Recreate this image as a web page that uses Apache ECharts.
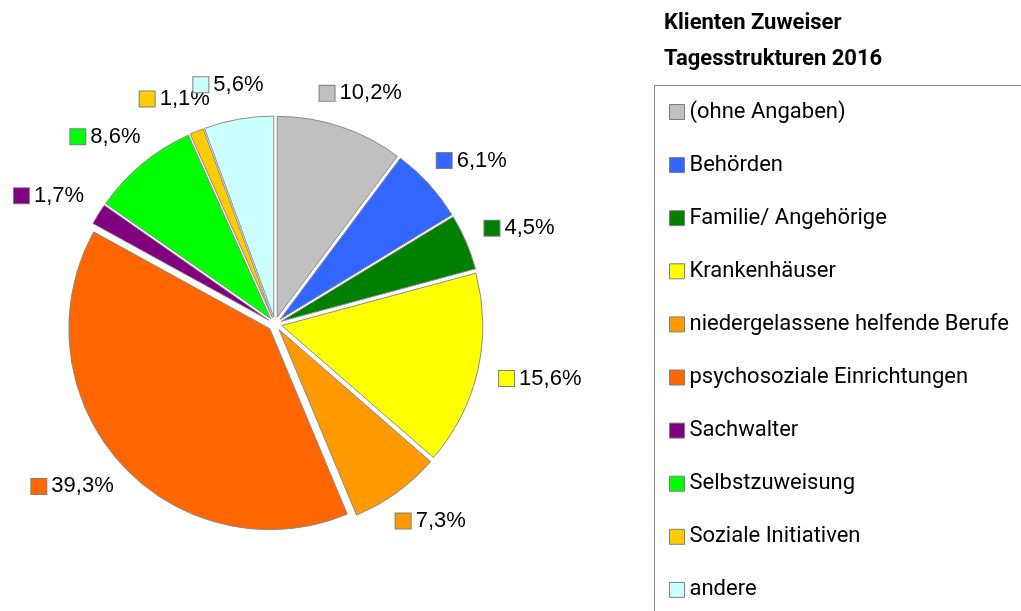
<!DOCTYPE html>
<html>
<head>
<meta charset="utf-8">
<script src="https://cdn.jsdelivr.net/npm/echarts@6/dist/echarts.min.js"></script>
<style>
  html, body { margin: 0; padding: 0; background: #ffffff; }
  #chart { width: 1021px; height: 611px; }
</style>
</head>
<body>
<div id="chart"></div>
<script>
// Zuweiser der Klienten (Anteile in %)
const categories = [
  '(ohne Angaben)',
  'Behörden',
  'Familie/ Angehörige',
  'Krankenhäuser',
  'niedergelassene helfende Berufe',
  'psychosoziale Einrichtungen',
  'Sachwalter',
  'Selbstzuweisung',
  'Soziale Initiativen',
  'andere'
];
const shares = [10.2, 6.1, 4.5, 15.6, 7.3, 39.3, 1.7, 8.6, 1.1, 5.6];
const colors = ['#C0C0C0', '#3366FF', '#008000', '#FFFF00', '#FF9900',
                '#FF6600', '#800080', '#00FF00', '#FFCC00', '#CCFFFF'];
const titleLines = ['Klienten Zuweiser', 'Tagesstrukturen 2016'];

// pie geometry
const CX = 275, CY = 324, RADIUS = 201, EXPLODE = 7, LABEL_R = 231;
const LABEL_FAMILY = '"Liberation Sans", Arial, sans-serif';
const LABEL_SIZE = 22;
const SQ = 15, SQ_GAP = 5, LABEL_H = 24;

const fmt = v => v.toFixed(1).replace('.', ',') + '%';

// mid angle of every slice, clockwise from 12 o'clock
const total = shares.reduce((a, b) => a + b, 0);
const midAngles = [];
let run = 0;
shares.forEach(v => { midAngles.push((run + v / 2) / total * 2 * Math.PI); run += v; });

// text measuring for label placement
const measureCtx = document.createElement('canvas').getContext('2d');
measureCtx.font = LABEL_SIZE + 'px ' + LABEL_FAMILY;

const rich = {
  t: { fontSize: LABEL_SIZE, fontFamily: LABEL_FAMILY, fill: '#000', padding: [0, 0, 0, SQ_GAP] }
};
colors.forEach((c, i) => {
  rich['sq' + i] = { width: SQ, height: SQ, backgroundColor: c, borderColor: '#808080', borderWidth: 1 };
});

// percentage labels sit just outside the rim, pushed out along the slice direction
const labelGraphics = shares.map((v, i) => {
  const txt = fmt(v);
  const w = SQ + SQ_GAP + measureCtx.measureText(txt).width;
  const nx = Math.sin(midAngles[i]), ny = -Math.cos(midAngles[i]);
  return {
    type: 'text',
    x: CX + (LABEL_R + w / 2) * nx,
    y: CY + (LABEL_R + LABEL_H / 2) * ny,
    z: 10,
    silent: true,
    style: {
      text: '{sq' + i + '|}{t|' + txt + '}',
      rich: rich,
      fontSize: LABEL_SIZE,
      fontFamily: LABEL_FAMILY,
      align: 'center',
      verticalAlign: 'middle'
    }
  };
});

const chart = echarts.init(document.getElementById('chart'), null, { renderer: 'canvas' });
chart.setOption({
  animation: false,
  backgroundColor: '#ffffff',
  title: {
    text: titleLines.join('\n'),
    left: 664,
    top: 5,
    padding: 0,
    textStyle: { fontFamily: 'Roboto, sans-serif', fontWeight: 'bold', fontSize: 22, lineHeight: 36, color: '#000' }
  },
  legend: {
    orient: 'vertical',
    left: 655,
    top: 85,
    padding: [16, 0, 0, 14],
    itemGap: 31.1,
    itemWidth: 15,
    itemHeight: 15,
    icon: 'rect',
    selectedMode: false,
    itemStyle: { borderColor: '#808080', borderWidth: 1 },
    textStyle: { fontFamily: 'Roboto, sans-serif', fontSize: 22, lineHeight: 22, color: '#000' },
    data: categories
  },
  graphic: [
    // legend frame, open to the right and bottom
    {
      type: 'rect',
      z: 0,
      silent: true,
      shape: { x: 654.5, y: 85.5, width: 600, height: 600 },
      style: { fill: null, stroke: '#8a8a8a', lineWidth: 1 }
    }
  ].concat(labelGraphics),
  series: [{
    type: 'pie',
    center: [CX, CY],
    radius: RADIUS,
    startAngle: 90,
    clockwise: true,
    selectedMode: 'multiple',
    selectedOffset: EXPLODE,
    itemStyle: { borderColor: '#8c8c8c', borderWidth: 1 },
    emphasis: { disabled: true },
    label: { show: false },
    labelLine: { show: false },
    data: categories.map((name, i) => ({
      name: name,
      value: shares[i],
      selected: true,
      itemStyle: { color: colors[i] }
    }))
  }]
});
</script>
</body>
</html>
